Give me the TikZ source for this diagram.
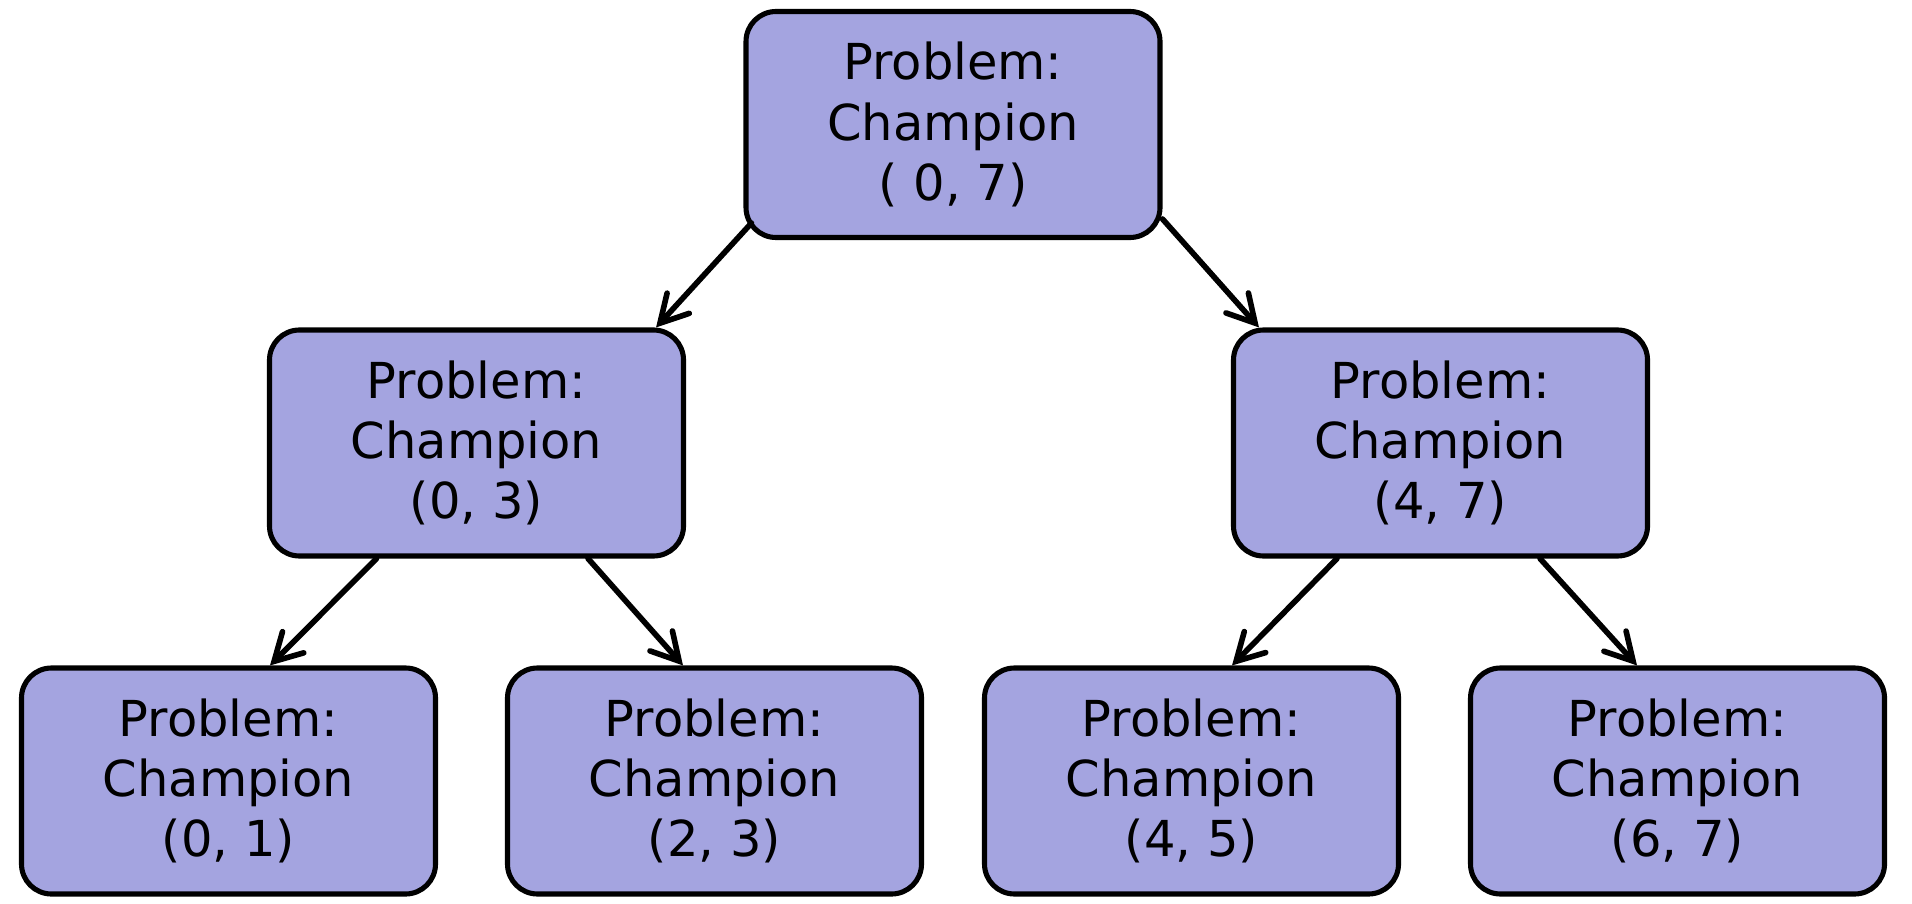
\documentclass[tikz,border=0pt]{standalone}
\usepackage{fontspec}
\setmainfont{DejaVu Sans}
\usetikzlibrary{arrows.meta}
\definecolor{boxfill}{RGB}{164,164,224}

\begin{document}
\begin{tikzpicture}[
        prob/.style={shape=rectangle,rounded corners=0.3cm,draw=black,fill=boxfill,line width=1.45pt,
            minimum width=4.14cm,minimum height=2.26cm,align=center,
            font=\fontsize{14.1}{17.1}\selectfont},
        link/.style={-{Straight Barb[length=0.27cm,width=0.3cm,line cap=round]},line width=1.6pt,line cap=round}]
        \useasboundingbox (0,0) rectangle (19.12,9.03);
        \node[prob] (T) at (9.53,7.785) {Problem:\\Champion\\( 0, 7)};
        \node[prob] (L) at (4.765,4.60) {Problem:\\Champion\\(0, 3)};
        \node[prob] (R) at (14.405,4.60) {Problem:\\Champion\\(4, 7)};
        \node[prob] (LL) at (2.285,1.22) {Problem:\\Champion\\(0, 1)};
        \node[prob] (LR) at (7.145,1.22) {Problem:\\Champion\\(2, 3)};
        \node[prob] (RL) at (11.915,1.22) {Problem:\\Champion\\(4, 5)};
        \node[prob] (RR) at (16.775,1.22) {Problem:\\Champion\\(6, 7)};
        \path [link] ([shift={(0.08,0.17)}]T.south west) edge ([xshift=-0.3cm]L.north east);
        \path [link] ([yshift=0.21cm]T.south east) edge ([xshift=0.28cm]R.north west);
        \path [link] ([xshift=-1.0cm]L.south) edge ([xshift=0.415cm]LL.north);
        \path [link] ([xshift=1.115cm]L.south) edge ([xshift=-0.315cm]LR.north);
        \path [link] ([xshift=-1.035cm]R.south) edge ([xshift=0.405cm]RL.north);
        \path [link] ([xshift=0.995cm]R.south) edge ([xshift=-0.405cm]RR.north);
    \end{tikzpicture}
\end{document}
